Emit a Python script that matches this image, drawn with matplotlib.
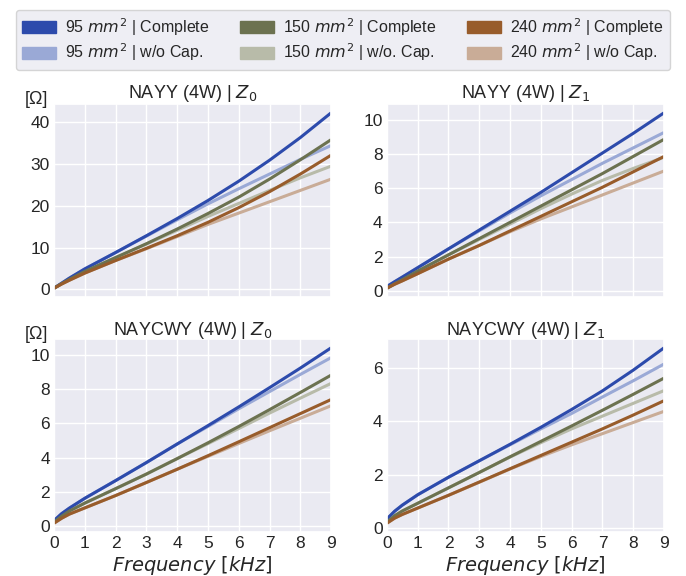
import matplotlib
matplotlib.use("Agg")
import matplotlib.pyplot as plt
import matplotlib.patches as mpatches
import seaborn as sns

sns.set_theme(style="darkgrid")
plt.rcParams['font.family'] = ['Liberation Sans', 'DejaVu Sans']

freq = [0, 0.25, 0.5, 1, 2, 3, 4, 5, 6, 7, 8, 9]  # kHz

# NAYY (4W) | Z0
nayy_z0_95 = [0.3, 1.5, 2.7, 4.9, 8.8, 12.8, 16.9, 21.2, 25.8, 30.8, 36.2, 42.1]
nayy_z0_95_nc = [0.3, 1.5, 2.7, 4.9, 8.8, 12.7, 16.6, 20.4, 24.0, 27.5, 31.0, 34.3]
nayy_z0_150 = [0.3, 1.4, 2.4, 4.3, 7.6, 10.9, 14.4, 18.1, 22.0, 26.3, 30.9, 35.7]
nayy_z0_150_nc = [0.3, 1.4, 2.4, 4.3, 7.6, 10.8, 14.1, 17.4, 20.5, 23.6, 26.6, 29.4]
nayy_z0_240 = [0.3, 1.3, 2.2, 3.9, 6.9, 9.8, 12.8, 16.0, 19.5, 23.3, 27.5, 32.0]
nayy_z0_240_nc = [0.3, 1.3, 2.2, 3.9, 6.9, 9.7, 12.6, 15.5, 18.2, 20.9, 23.6, 26.3]

# NAYY (4W) | Z1
nayy_z1_95 = [0.25, 0.53, 0.8, 1.35, 2.45, 3.55, 4.65, 5.75, 6.9, 8.05, 9.2, 10.4]
nayy_z1_95_nc = [0.25, 0.53, 0.8, 1.35, 2.45, 3.5, 4.55, 5.55, 6.5, 7.45, 8.35, 9.25]
nayy_z1_150 = [0.15, 0.41, 0.65, 1.15, 2.1, 3.05, 4.0, 4.95, 5.9, 6.85, 7.85, 8.85]
nayy_z1_150_nc = [0.15, 0.41, 0.65, 1.15, 2.1, 3.0, 3.9, 4.8, 5.65, 6.45, 7.15, 7.8]
nayy_z1_240 = [0.15, 0.38, 0.58, 1.0, 1.85, 2.65, 3.5, 4.35, 5.2, 6.05, 6.95, 7.85]
nayy_z1_240_nc = [0.15, 0.38, 0.58, 1.0, 1.85, 2.65, 3.45, 4.2, 4.9, 5.6, 6.3, 7.0]

# NAYCWY (4W) | Z0
naycwy_z0_95 = [0.34, 0.75, 1.07, 1.64, 2.67, 3.72, 4.8, 5.87, 6.96, 8.08, 9.22, 10.4]
naycwy_z0_95_nc = [0.34, 0.75, 1.07, 1.64, 2.67, 3.72, 4.8, 5.82, 6.85, 7.85, 8.85, 9.83]
naycwy_z0_150 = [0.25, 0.6, 0.9, 1.36, 2.2, 3.05, 3.95, 4.87, 5.82, 6.8, 7.8, 8.81]
naycwy_z0_150_nc = [0.25, 0.6, 0.9, 1.36, 2.2, 3.05, 3.95, 4.82, 5.7, 6.6, 7.47, 8.33]
naycwy_z0_240 = [0.19, 0.48, 0.72, 1.08, 1.8, 2.56, 3.33, 4.12, 4.93, 5.75, 6.57, 7.39]
naycwy_z0_240_nc = [0.19, 0.48, 0.72, 1.08, 1.8, 2.56, 3.33, 4.08, 4.83, 5.57, 6.3, 7.03]

# NAYCWY (4W) | Z1
naycwy_z1_95 = [0.33, 0.62, 0.85, 1.24, 1.9, 2.52, 3.14, 3.78, 4.45, 5.15, 5.93, 6.77]
naycwy_z1_95_nc = [0.33, 0.62, 0.85, 1.24, 1.9, 2.52, 3.12, 3.72, 4.3, 4.92, 5.53, 6.16]
naycwy_z1_150 = [0.21, 0.45, 0.63, 0.92, 1.5, 2.08, 2.67, 3.25, 3.83, 4.42, 5.02, 5.63]
naycwy_z1_150_nc = [0.21, 0.45, 0.63, 0.92, 1.5, 2.08, 2.66, 3.2, 3.72, 4.2, 4.68, 5.16]
naycwy_z1_240 = [0.17, 0.36, 0.5, 0.74, 1.22, 1.72, 2.22, 2.72, 3.22, 3.72, 4.24, 4.78]
naycwy_z1_240_nc = [0.17, 0.36, 0.5, 0.74, 1.22, 1.71, 2.21, 2.68, 3.12, 3.54, 3.96, 4.38]

labels = ["95 $mm^2$ | Complete", "95 $mm^2$ | w/o Cap.",
          "150 $mm^2$ | Complete", "150 $mm^2$ | w/o. Cap.",
          "240 $mm^2$ | Complete", "240 $mm^2$ | w/o Cap."]
colors = ["#2d4bac", "#9aa9d6", "#6c7250", "#b8bba9", "#985c2b", "#c9ac97"]

panels = [
    ("NAYY (4W) | $Z_0$", [nayy_z0_95, nayy_z0_95_nc, nayy_z0_150, nayy_z0_150_nc, nayy_z0_240, nayy_z0_240_nc], [0, 10, 20, 30, 40]),
    ("NAYY (4W) | $Z_1$", [nayy_z1_95, nayy_z1_95_nc, nayy_z1_150, nayy_z1_150_nc, nayy_z1_240, nayy_z1_240_nc], [0, 2, 4, 6, 8, 10]),
    ("NAYCWY (4W) | $Z_0$", [naycwy_z0_95, naycwy_z0_95_nc, naycwy_z0_150, naycwy_z0_150_nc, naycwy_z0_240, naycwy_z0_240_nc], [0, 2, 4, 6, 8, 10]),
    ("NAYCWY (4W) | $Z_1$", [naycwy_z1_95, naycwy_z1_95_nc, naycwy_z1_150, naycwy_z1_150_nc, naycwy_z1_240, naycwy_z1_240_nc], [0, 2, 4, 6]),
]

fig = plt.figure(figsize=(6.86, 5.76), dpi=100)
rects = [[0.0787, 0.4844, 0.404, 0.335], [0.564, 0.4844, 0.404, 0.335],
         [0.0787, 0.0764, 0.404, 0.335], [0.564, 0.0764, 0.404, 0.335]]

draw_order = [1, 3, 5, 0, 2, 4]  # light lines underneath
for i, (title, series, yt) in enumerate(panels):
    ax = fig.add_axes(rects[i])
    for k in draw_order:
        ax.plot(freq, series[k], color=colors[k], lw=2.2, solid_capstyle='butt')
    ax.set_xlim(0, 9)
    ax.set_xticks(range(10))
    ax.set_yticks(yt)
    ax.set_title(title, fontsize=13, pad=3, color="#262626")
    ax.tick_params(labelsize=12.5, pad=3, length=0, colors="#262626")
    if i < 2:
        ax.set_xticklabels([])
    else:
        ax.set_xlabel("$Frequency\\ [kHz]$", fontsize=14, labelpad=2, color="#262626")
    if i % 2 == 0:
        ax.text(-0.022, 1.0, "[Ω]", transform=ax.transAxes, ha="right", va="baseline",
                fontsize=13, color="#262626")

handles = [mpatches.Patch(color=c) for c in colors]
fig.legend(handles, labels, ncol=3, loc="upper center", bbox_to_anchor=(0.5, 0.997),
           fontsize=11.5, frameon=True, handlelength=2.1, handleheight=0.75,
           handletextpad=0.6, columnspacing=1.9, borderpad=0.4, labelspacing=0.25,
           facecolor="#eaeaf2", edgecolor="#cccccc")

fig.savefig("out.png", dpi=100)
